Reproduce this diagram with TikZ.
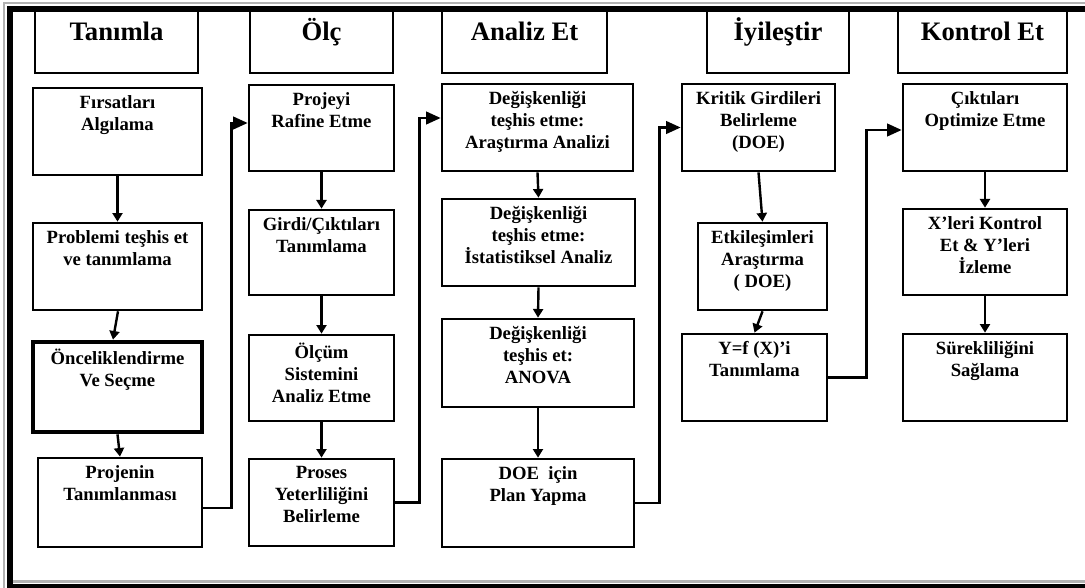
\documentclass[tikz,border=0pt]{standalone}
\usepackage{fontspec}
\setmainfont{Liberation Serif}
\usetikzlibrary{arrows.meta,calc,fit}

% a process step: framed box with its text set near the top
\newcommand\stepbox[6][]{%
  \node[box,#1, fit={(#3,#4) (#5,#6)}] (#2) {};}
\newcommand\steptext[2]{%
  \node[lbl] (#1t) at ($(#1.north)+(0,8.6)$) {#2};}

\begin{document}
\begin{tikzpicture}[x=0.75pt,y=-0.75pt,
  box/.style={draw, line width=2pt, inner sep=0pt},
  head/.style={font=\fontsize{20}{24}\selectfont\bfseries, inner sep=0pt, anchor=base},
  lbl/.style={font=\fontsize{14}{16.5}\selectfont\bfseries, align=center,
              inner sep=0pt, anchor=north,
              execute at begin node={\rule{0pt}{12.5pt}}},
  down/.style={line width=1.8pt, -{Triangle[length=6.5pt,width=7.5pt]}},
  link/.style={line width=1.8pt, -{Triangle[length=11pt,width=9.5pt]}},
]
\useasboundingbox (0,0) rectangle (1085,588);
\clip (0,0) rectangle (1085,588);

% outer frame with its shadow
\draw[gray!60, line width=1.5pt] (4,600) -- (4,3) -- (1100,3);
\draw[gray!60, line width=2pt] (8,581.5) -- (1100,581.5);
\draw[line width=4.5pt] (9.5,600) -- (9.5,9) -- (1100,9);
\draw[line width=3.5pt] (7,586) -- (1100,586);

% phase headers
\node[box, fit={(35,10) (198,73)}] (h1) {};
\node[head] (h1t) at ($(h1.north)+(0,32)$) {Tanımla};
\node[box, fit={(250,10) (393,73)}] (h2) {};
\node[head] (h2t) at ($(h2.north)+(0,32)$) {Ölç};
\node[box, fit={(442,10) (607,73)}] (h3) {};
\node[head] (h3t) at ($(h3.north)+(0,32)$) {Analiz Et};
\node[box, fit={(707,10) (849,73)}] (h4) {};
\node[head] (h4t) at ($(h4.north)+(0,32)$) {İyileştir};
\node[box, fit={(898,10) (1067,73)}] (h5) {};
\node[head] (h5t) at ($(h5.north)+(0,32)$) {Kontrol Et};

% Tanımla
\stepbox{f1}{33}{88}{202}{175}   \steptext{f1}{Fırsatları\\Algılama}
\stepbox{f2}{33}{223}{202}{310}  \steptext{f2}{Problemi teşhis et\\ve tanımlama}
\stepbox[line width=3.5pt]{f3}{33}{342}{202}{432}
\steptext{f3}{Önceliklendirme\\Ve Seçme}
\stepbox{f4}{38}{458}{202}{547}  \steptext{f4}{Projenin\\Tanımlanması}

% Ölç
\stepbox{m1}{249}{85}{394}{171}  \steptext{m1}{Projeyi\\Rafine Etme}
\stepbox{m2}{249}{210}{394}{295} \steptext{m2}{Girdi/Çıktıları\\Tanımlama}
\stepbox{m3}{249}{335}{394}{421} \steptext{m3}{Ölçüm\\Sistemini\\Analiz Etme}
\stepbox{m4}{249}{459}{394}{546} \steptext{m4}{Proses\\Yeterliliğini\\Belirleme}

% Analiz Et
\stepbox{a1}{442}{84}{633}{171}  \steptext{a1}{Değişkenliği\\teşhis etme:\\Araştırma Analizi}
\stepbox{a2}{442}{199}{635}{286} \steptext{a2}{Değişkenliği\\teşhis etme:\\İstatistiksel Analiz}
\stepbox{a3}{442}{319}{634}{407} \steptext{a3}{Değişkenliği\\teşhis et:\\ANOVA}
\stepbox{a4}{442}{459}{634}{547} \steptext{a4}{DOE\ \ için\\Plan Yapma}

% İyileştir
\stepbox{k1}{682}{84}{835}{171}  \steptext{k1}{Kritik Girdileri\\Belirleme\\(DOE)}
\stepbox{k2}{698}{223}{827}{310} \steptext{k2}{Etkileşimleri\\Araştırma\\( DOE)}
\stepbox{k3}{682}{334}{827}{421} \steptext{k3}{Y=f (X)’i\\Tanımlama}

% Kontrol Et
\stepbox{c1}{903}{84}{1067}{171}  \steptext{c1}{Çıktıları\\Optimize Etme}
\stepbox{c2}{903}{209}{1067}{295} \steptext{c2}{X’leri Kontrol\\Et \& Y’leri\\İzleme}
\stepbox{c3}{903}{334}{1067}{421} \steptext{c3}{Sürekliliğini\\Sağlama}

% flow inside each phase
\draw[down] (f1.south) -- (f2.north);
\draw[down] ($(f2.south)+(0.5,0)$) -- ($(f3.north)+(-4.5,0)$);
\draw[down] (f3.south) -- (f4.north);
\draw[down] (m1.south) -- (m2.north);
\draw[down] (m2.south) -- (m3.north);
\draw[down] (m3.south) -- (m4.north);
\draw[down] (a1.south) -- (a2.north);
\draw[down] (a2.south) -- (a3.north);
\draw[down] (a3.south) -- (a4.north);
\draw[down] (k1.south) -- (k2.north);
\draw[down] (k2.south) -- (k3.north);
\draw[down] (c1.south) -- (c2.north);
\draw[down] (c2.south) -- (c3.north);

% hand-over from one phase to the next
\draw[link] ($(f4.east)+(0,5.5)$) -- ++(28,0) |- ($(m1.west)+(0,-5)$);
\draw[link] (m4.east) -- ++(24,0) |- ($(a1.west)+(0,-9.5)$);
\draw[link] (a4.east) -- ++(24,0) |- (k1.west);
\draw[link] (k3.east) -- ++(38,0) |- ($(c1.west)+(0,2.5)$);
\end{tikzpicture}
\end{document}
